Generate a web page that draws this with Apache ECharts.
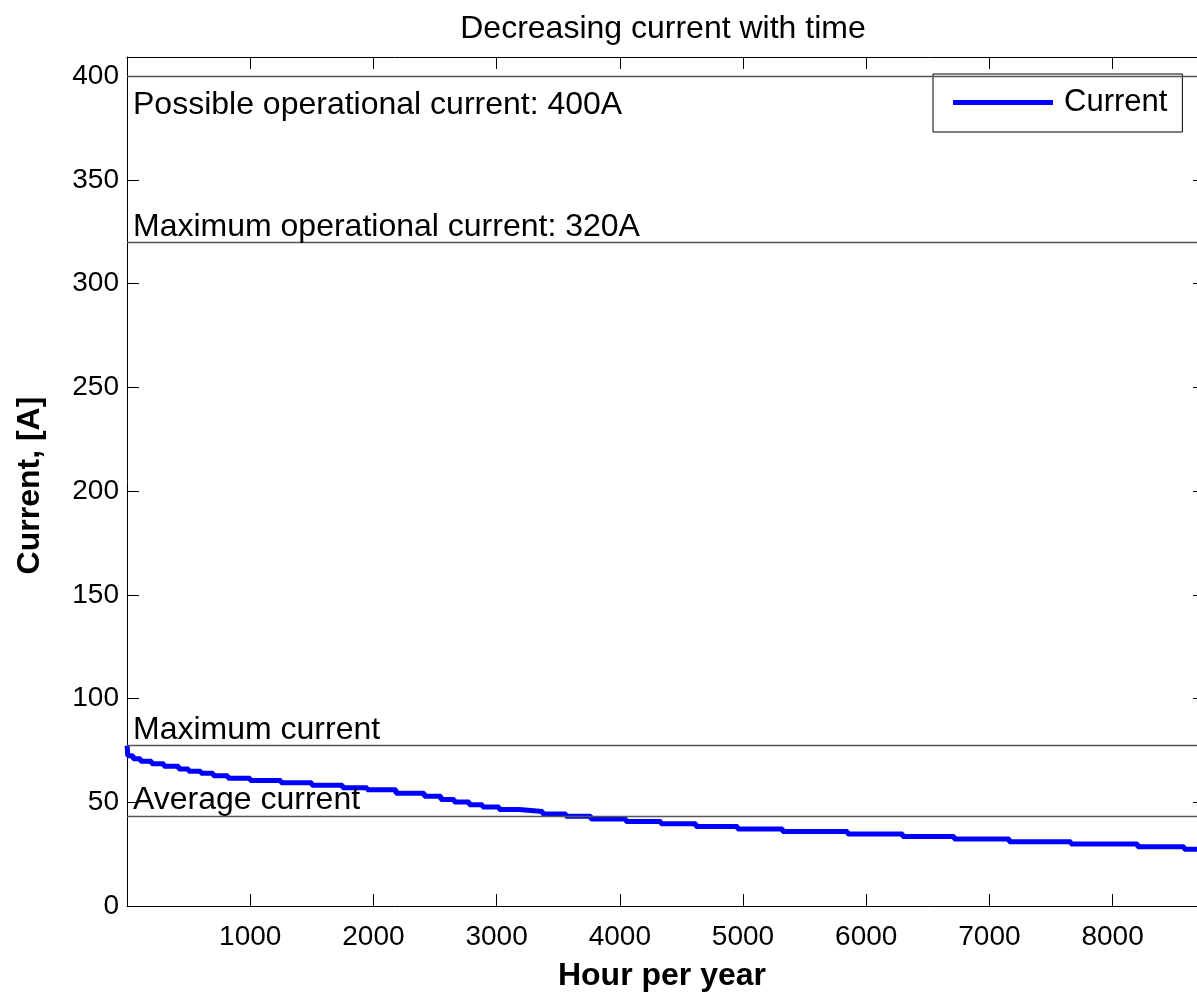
<!DOCTYPE html>
<html>
<head>
<meta charset="utf-8">
<script src="https://cdn.jsdelivr.net/npm/echarts@6/dist/echarts.min.js"></script>
<style>
  html, body { margin: 0; padding: 0; background: #fff; }
  #main { width: 1197px; height: 997px; }
</style>
</head>
<body>
<div id="main"></div>
<script>
// hours (start of each plateau) and current level
var hours = [1, 6, 50, 110, 200, 300, 420, 500, 600, 700, 820, 1000, 1250, 1500, 1750, 1950,
    2183, 2413, 2548, 2656, 2778, 2886, 3021, 3183, 3373, 3563, 3765, 4050, 4334, 4618,
    4956, 5321, 5849, 6296, 6714, 7161, 7662, 8203, 8581, 8760];
var amps = [77.3, 72.4, 71.0, 69.8, 68.6, 67.4, 66.0, 65.0, 64.0, 62.8, 61.6, 60.5, 59.4, 58.2, 57.0, 56.0,
    54.4, 52.9, 51.4, 50.1, 48.8, 47.7, 46.5, 45.6, 44.3, 43.3, 42.0, 40.7, 39.6, 38.3,
    37.1, 35.9, 34.7, 33.5, 32.3, 31.0, 29.9, 28.6, 27.4, 27.4];

var xTicks = [1000, 2000, 3000, 4000, 5000, 6000, 7000, 8000];
var yTicks = [0, 50, 100, 150, 200, 250, 300, 350, 400];

var possibleCurrent = 400;
var maxOperational = 320;
var averageCurrent = 43.1;
var maxCurrent = Math.max.apply(null, amps);

// the picture is cropped on the right: the visible part ends near 8685 h
var xVisibleMax = 8685;

var FONT = '"Liberation Sans", Arial, sans-serif';

var chart = echarts.init(document.getElementById('main'));

var seriesData = [];
for (let i in hours) {
    seriesData.push([hours[i], amps[i]]);
}

// text sitting just above/below a reference line
function refLine(value, text, pos, gap) {
    return {
        yAxis: value,
        label: {
            show: true,
            formatter: text,
            position: pos,
            distance: [6, gap],
            color: '#000',
            fontSize: 32,
            fontFamily: FONT
        }
    };
}

// fresh copy for each axis, box style with inward ticks
function boxAxis(extra) {
    return Object.assign({
        axisLine: {show: true, onZero: false, lineStyle: {color: '#000', width: 1}},
        axisTick: {show: true, inside: true, length: 12, lineStyle: {color: '#000'}},
        splitLine: {show: false}
    }, extra);
}

var option = {
    animation: false,
    backgroundColor: '#fff',
    title: {
        text: 'Decreasing current with time',
        left: 658,
        top: 8,
        textAlign: 'center',
        textStyle: {fontSize: 32, fontWeight: 'normal', color: '#000', fontFamily: FONT}
    },
    legend: {
        data: ['Current'],
        left: 933,
        top: 74,
        icon: 'rect',
        itemWidth: 100,
        itemHeight: 5,
        padding: [13, 15, 14, 20],
        backgroundColor: '#fff',
        borderColor: '#000',
        borderWidth: 1,
        borderRadius: 0,
        textStyle: {fontSize: 31, color: '#000', fontFamily: FONT, padding: [0, 0, 0, 6]}
    },
    grid: {left: 127, right: 0, top: 57, bottom: 90},
    xAxis: [
        boxAxis({
            type: 'value',
            position: 'bottom',
            min: 0,
            max: xVisibleMax,
            interval: 1000,
            name: 'Hour per year',
            nameLocation: 'middle',
            nameGap: 54,
            nameTextStyle: {fontSize: 32, fontWeight: 'bold', color: '#000', fontFamily: FONT},
            axisLabel: {
                fontSize: 28, color: '#000', fontFamily: FONT, margin: 17,
                showMinLabel: false, showMaxLabel: false,
                formatter: function (v) { return xTicks.indexOf(v) >= 0 ? String(v) : ''; }
            }
        }),
        boxAxis({
            type: 'value',
            position: 'top',
            min: 0,
            max: xVisibleMax,
            interval: 1000,
            axisLabel: {show: false}
        })
    ],
    yAxis: [
        boxAxis({
            type: 'value',
            position: 'left',
            min: 0,
            max: 409.3,
            interval: 50,
            name: 'Current, [A]',
            nameLocation: 'middle',
            nameGap: 81,
            nameTextStyle: {fontSize: 32, fontWeight: 'bold', color: '#000', fontFamily: FONT, padding: [0, 8, 0, 0]},
            axisLabel: {
                fontSize: 28, color: '#000', fontFamily: FONT, margin: 8,
                showMaxLabel: false,
                formatter: function (v) { return yTicks.indexOf(v) >= 0 ? String(v) : ''; }
            }
        }),
        // right side of the box lies just outside the picture, only tick ends show
        boxAxis({
            type: 'value',
            position: 'right',
            min: 0,
            max: 409.3,
            interval: 50,
            axisLine: {show: false, onZero: false},
            axisTick: {show: true, inside: true, length: 4, lineStyle: {color: '#000'}},
            axisLabel: {show: false}
        })
    ],
    series: [{
        name: 'Current',
        type: 'line',
        step: 'end',
        showSymbol: false,
        data: seriesData,
        color: '#0000ff',
        lineStyle: {color: '#0000ff', width: 5},
        markLine: {
            silent: true,
            symbol: 'none',
            lineStyle: {color: '#555', width: 1.3, type: 'solid'},
            data: [
                refLine(possibleCurrent, 'Possible operational current: 400A', 'insideStartBottom', 13),
                refLine(maxOperational, 'Maximum operational current: 320A', 'insideStartTop', -1),
                refLine(maxCurrent, 'Maximum current', 'insideStartTop', -1),
                refLine(averageCurrent, 'Average current', 'insideStartTop', 0)
            ]
        }
    }]
};

chart.setOption(option);
</script>
</body>
</html>
